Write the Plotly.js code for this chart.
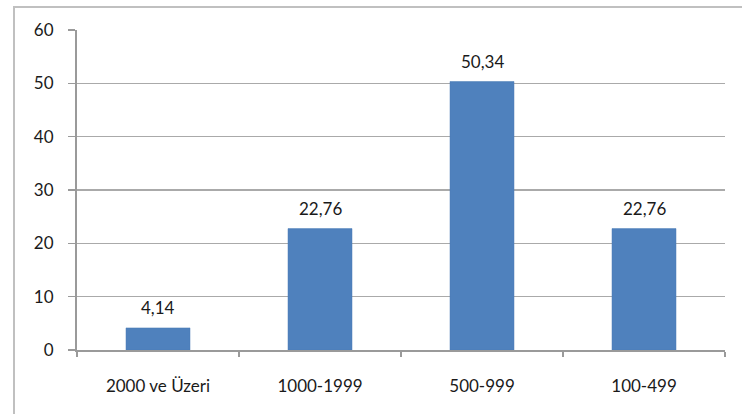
<!DOCTYPE html>
<html><head><meta charset="utf-8">
<script src="https://cdn.plot.ly/plotly-3.0.1.min.js"></script>
<style>html,body{margin:0;padding:0;background:#fff;}#chart{width:742px;height:414px;}</style>
</head><body><div id="chart"></div>
<script>
const categories = ["2000 ve Üzeri", "1000-1999", "500-999", "100-499"];
const values = [4.14, 22.76, 50.34, 22.76];
const yTicks = [0, 10, 20, 30, 40, 50, 60];

const fmt = v => v.toFixed(2).replace('.', ',');

const trace = {
  type: 'bar', x: categories, y: values,
  marker: {color: '#4F81BD', line: {color: '#4A7AB5', width: 0.5}},
  hoverinfo: 'none'
};

const annotations = categories.map((c, i) => ({
  x: c, y: values[i], xref: 'x', yref: 'y', text: fmt(values[i]),
  showarrow: false, yanchor: 'bottom', yshift: 8,
  font: {family: 'Lato, "Liberation Sans", sans-serif', size: 17, color: '#1a1a1a'}
}));

const layout = {
  width: 742, height: 414,
  margin: {l: 77, r: 17, t: 30, b: 64},
  paper_bgcolor: '#fff', plot_bgcolor: '#fff',
  showlegend: false, bargap: 0.605,
  separators: ',.',
  font: {family: 'Lato, "Liberation Sans", sans-serif', size: 17, color: '#1a1a1a'},
  xaxis: {
    type: 'category', showgrid: false, showline: true, linecolor: '#9a9a9a', linewidth: 2,
    ticks: 'outside', tickson: 'boundaries', ticklen: 5, tickcolor: '#9a9a9a', tickwidth: 2,
    ticklabelstandoff: 20, zeroline: false, fixedrange: true
  },
  yaxis: {
    range: [0, 60], tickvals: yTicks, showgrid: true, gridcolor: '#aaaaaa', gridwidth: 1.5,
    showline: true, linecolor: '#9a9a9a', linewidth: 2, zeroline: false,
    ticks: 'outside', ticklen: 7, tickcolor: '#9a9a9a', tickwidth: 1.5,
    ticklabelstandoff: 11, fixedrange: true
  },
  annotations: annotations,
  shapes: [{
    type: 'rect', xref: 'paper', yref: 'paper', x0: -0.0972, x1: 1.06, y0: -0.25, y1: 1.0719,
    line: {color: '#c0c0c0', width: 2}, fillcolor: 'rgba(0,0,0,0)', layer: 'below'
  }]
};

Plotly.newPlot('chart', [trace], layout, {displayModeBar: false, staticPlot: true});
</script></body></html>
